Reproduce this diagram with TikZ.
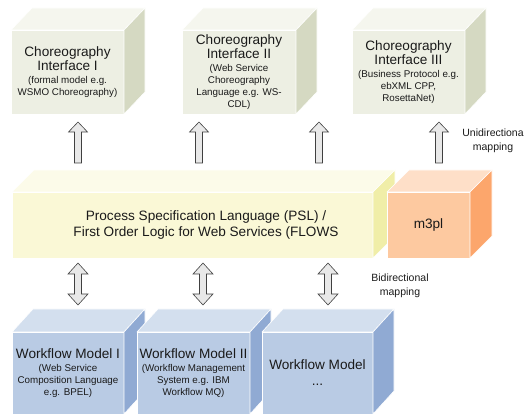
\documentclass[tikz,border=0pt]{standalone}
\usepackage{fontspec}
\setmainfont{Liberation Sans}
\definecolor{txt}{RGB}{26,26,26}
\definecolor{cfront}{RGB}{237,239,227}
\definecolor{ctop}{RGB}{245,246,238}
\definecolor{cside}{RGB}{213,217,194}
\definecolor{pfront}{RGB}{250,248,214}
\definecolor{ptop}{RGB}{252,251,233}
\definecolor{pside}{RGB}{240,238,168}
\definecolor{mfront}{RGB}{253,201,160}
\definecolor{mtop}{RGB}{254,223,200}
\definecolor{mside}{RGB}{252,166,108}
\definecolor{wfront}{RGB}{185,203,228}
\definecolor{wtop}{RGB}{211,223,238}
\definecolor{wside}{RGB}{144,170,211}
\definecolor{afill}{RGB}{232,232,232}
\definecolor{aline}{RGB}{64,64,64}
\newcommand\ttl{\fontsize{13.6}{16}\selectfont}
\newcommand\sbt{\fontsize{9.8}{12}\selectfont}
\newcommand\cubefaces[5]{% name, dx, dy, top colour, side colour
  \draw[face, fill=#4] (#1.north west) -- ++(#2,-#3) -- ([shift={(#2,-#3)}]#1.north east) -- (#1.north east) -- cycle;
  \draw[face, fill=#5] (#1.north east) -- ++(#2,-#3) -- ([shift={(#2,-#3)}]#1.south east) -- (#1.south east) -- cycle;}
\newcommand\uparr[1]{\draw[blockarrow] (#1) -- ++(9.5,10) -- ++(-6,0) -- ++(0,31) -- ++(-7,0) -- ++(0,-31) -- ++(-6,0) -- cycle;}
\newcommand\bidarr[1]{\draw[blockarrow] (#1) -- ++(10,11) -- ++(-6.5,0) -- ++(0,20) -- ++(6.5,0) -- ++(-10,11) -- ++(-10,-11) -- ++(6.5,0) -- ++(0,-20) -- ++(-6.5,0) -- cycle;}
\begin{document}
\begin{tikzpicture}[x=1pt,y=-1pt,
  face/.style={draw=white, line width=0.6pt, line join=round},
  front/.style={face, fill=#1, inner sep=0pt, outer sep=0pt, anchor=north west, align=center, text=txt},
  blockarrow/.style={draw=aline, fill=afill, line width=0.6pt, line join=miter},
  lbl/.style={align=center, text=txt, font=\fontsize{10.5}{14}\selectfont, inner sep=0pt}]
\useasboundingbox (0,0) rectangle (531,414);
\begin{scope}
\clip (0,0) rectangle (531,414);
% top boxes
\node[front=cfront, minimum width=113pt, minimum height=84pt] (c1) at (11,30)
  {\ttl Choreography\\\ttl Interface I\\[1pt]\sbt (formal model e.g.\\\sbt WSMO Choreography)};
\cubefaces{c1}{21}{22}{ctop}{cside}
\node[front=cfront, minimum width=114pt, minimum height=84pt] (c2) at (182,30)
  {\ttl Choreography\\\ttl Interface II\\[1pt]\sbt (Web Service\\\sbt Choreography\\\sbt Language e.g. WS-\\\sbt CDL)};
\cubefaces{c2}{21}{22}{ctop}{cside}
\node[front=cfront, minimum width=113pt, minimum height=84pt] (c3) at (352,30)
  {\ttl Choreography\\\ttl Interface III\\[1pt]\sbt (Business Protocol e.g.\\\sbt ebXML CPP,\\\sbt RosettaNet)};
\cubefaces{c3}{21}{22}{ctop}{cside}
% middle
\node[front=pfront, minimum width=361pt, minimum height=66pt] (psl) at (12,192) {};
\cubefaces{psl}{22}{22}{ptop}{pside}
\node[front=mfront, minimum width=83pt, minimum height=66pt] (m3pl) at (387,192) {\ttl m3pl};
\cubefaces{m3pl}{22}{22}{mtop}{mside}
\node[align=center, text=txt, inner sep=0pt, font=\fontsize{13.6}{15.5}\selectfont] (psltext) at (206,225)
  {Process Specification Language (PSL) /\\First Order Logic for Web Services (FLOWS};
% bottom
\node[front=wfront, minimum width=112pt, minimum height=82pt] (w1) at (12,332)
  {\ttl Workflow Model I\\[1pt]\sbt (Web Service\\\sbt Composition Language\\\sbt e.g. BPEL)};
\cubefaces{w1}{21}{23}{wtop}{wside}
\node[front=wfront, minimum width=113pt, minimum height=82pt] (w2) at (137,332)
  {\ttl Workflow Model II\\[1pt]\sbt (Workflow Management\\\sbt System e.g. IBM\\\sbt Workflow MQ)};
\cubefaces{w2}{21}{23}{wtop}{wside}
\node[front=wfront, minimum width=111pt, minimum height=82pt] (w3) at (262,332)
  {\ttl Workflow Model\\[4pt]\ttl ...};
\cubefaces{w3}{21}{23}{wtop}{wside}
\end{scope}
% arrows
\coordinate (u1) at (78,122);
\coordinate (u2) at (199,122);
\coordinate (u3) at (319,122);
\coordinate (u4) at (439,122);
\uparr{u1}\uparr{u2}\uparr{u3}\uparr{u4}
\coordinate (b1) at (78,263);
\coordinate (b2) at (203,263);
\coordinate (b3) at (328,263);
\bidarr{b1}\bidarr{b2}\bidarr{b3}
\node[lbl] (uni) at (493,141) {Unidirectiona\\mapping};
\node[lbl] (bid) at (400,286) {Bidirectional\\mapping};
\end{tikzpicture}
\end{document}
